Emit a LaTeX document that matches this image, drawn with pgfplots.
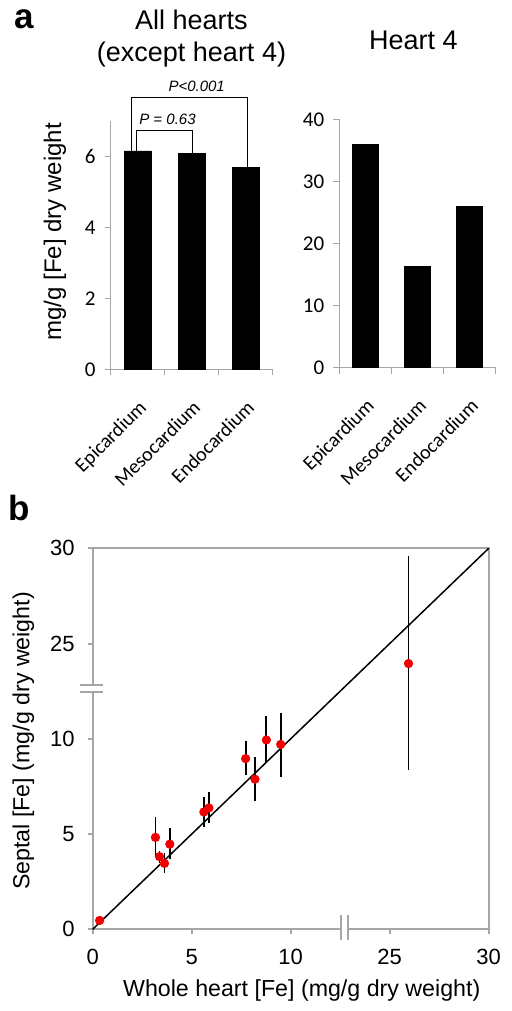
\documentclass[border=0pt]{standalone}
\usepackage{fontspec}
\setmainfont{Liberation Sans}
\newfontfamily\carlito{Carlito}
\usepackage{pgfplots}
\pgfplotsset{compat=1.18}
\definecolor{axgray}{RGB}{166,166,166}
\definecolor{dotred}{RGB}{240,0,0}

% Panel b: broken axes, plotted on an index scale u where
% 0->0, 5->1, 10->2, (break at 2.5), 25->3, 30->4 ;  u = v/5 below the break, u = 3+(v-25)/5 above
\pgfplotstableread{
x      y      ep     em
0.070  0.093  0.000  0.000
0.634  0.965  0.213  0.195
0.675  0.763  0.060  0.064
0.725  0.692  0.114  0.099
0.779  0.894  0.171  0.159
1.123  1.232  0.159  0.160
1.174  1.274  0.163  0.156
1.545  1.792  0.185  0.177
1.639  1.576  0.231  0.231
1.754  1.988  0.248  0.242
1.899  1.941  0.327  0.340
3.190  2.790  1.125  1.122
}\septal

\begin{document}
\begin{tikzpicture}
\path[use as bounding box] (0,0) rectangle (256pt,-505.5pt);

% panel letters
\node[anchor=base west, inner sep=0pt, font=\bfseries\fontsize{17.5}{20}\selectfont] at (7pt,-14.2pt) {a};
\node[anchor=base west, inner sep=0pt, font=\bfseries\fontsize{17.5}{20}\selectfont] at (4.15pt,-260.35pt) {b};

% titles
\node[anchor=base, inner sep=0pt, font=\fontsize{13.5}{16}\selectfont] at (95.75pt,-14.65pt) {All hearts};
\node[anchor=base, inner sep=0pt, font=\fontsize{13.5}{16}\selectfont] at (95.75pt,-30.8pt) {(except heart 4)};
\node[anchor=base, inner sep=0pt, font=\fontsize{13.5}{16}\selectfont] at (206.67pt,-24.67pt) {Heart 4};

% y label a
\node[rotate=90, inner sep=0pt, font=\fontsize{12}{14}\selectfont] at (27.5pt,-115.85pt) {mg/g [Fe] dry weight};

\pgfplotsset{
  barpanel/.style={
    scale only axis, anchor=south west, clip=false,
    xmin=-0.5, xmax=2.5, ymin=0,
    axis x line=bottom, axis y line=left,
    axis line style={axgray, line width=0.5pt, -},
    xtick={-0.5,0.5,1.5,2.5}, xticklabels={},
    tick align=outside, major tick length=3pt,
    tick style={axgray, line width=0.5pt},
    yticklabel style={font=\carlito\fontsize{10.5}{12}\selectfont, text=black, xshift=-1pt},
    extra x ticks={0,1,2},
    extra x tick labels={Epicardium,Mesocardium,Endocardium},
    extra x tick style={major tick length=0pt, tick style={draw=none},
      xticklabel style={font=\carlito\fontsize{10}{12}\selectfont, text=black,
        yshift=-14.6pt, rotate=45, anchor=north east, inner sep=0pt}},
    ybar, bar width=0.5, bar shift=0pt,
  }
}

% ---- All hearts (except heart 4)
\begin{axis}[barpanel,
  at={(55.25pt,-184.65pt)}, width=81.1pt, height=124.25pt,
  ymax=7, ytick={0,2,4,6}, yticklabels={0,2,4,6}]
\addplot[fill=black, draw=black] coordinates {(0,6.15) (1,6.07) (2,5.68)};
\draw[black, line width=0.5pt] (axis cs:-0.015,6.15) |- (axis cs:1.02,6.72) -- (axis cs:1.02,6.07);
\draw[black, line width=0.5pt] (axis cs:-0.12,6.15) |- (axis cs:2.04,7.66) -- (axis cs:2.04,5.68);
\node[anchor=base, inner sep=0pt, font=\itshape\fontsize{7.5}{9}\selectfont] at (axis cs:0.554,6.91) {P = 0.63};
\node[anchor=base, inner sep=0pt, font=\itshape\fontsize{7.5}{9}\selectfont] at (axis cs:1.094,7.82) {P<0.001};
\end{axis}

% ---- Heart 4
\begin{axis}[barpanel,
  at={(169.65pt,-183.85pt)}, width=78.2pt, height=124.2pt,
  ymax=40, ytick={0,10,20,30,40}, yticklabels={0,10,20,30,40}]
\addplot[fill=black, draw=black] coordinates {(0,36.0) (1,16.3) (2,26.0)};
\end{axis}

% ---- panel b
\begin{axis}[
  at={(46.35pt,-464.65pt)}, anchor=south west, scale only axis,
  width=198pt, height=190.5pt, clip=false,
  xmin=0, xmax=4, ymin=0, ymax=4,
  axis line style={axgray, line width=1pt},
  xtick={0,1,2,3,4}, xticklabels={0,5,10,25,30},
  ytick={0,1,2,3,4}, yticklabels={0,5,10,25,30},
  tick pos=left, tick align=outside, major tick length=2.5pt,
  tick style={axgray, line width=1pt},
  ticklabel style={font=\fontsize{11}{13}\selectfont, text=black},
  xticklabel style={yshift=-4pt},
  yticklabel style={xshift=-3pt},
]
\addplot[only marks, mark=*, mark size=2.1pt, color=dotred,
  mark options={fill=dotred, draw=dotred},
  error bars/.cd, y dir=both, y explicit, error mark=none,
  error bar style={black, line width=0.85pt}]
  table[x=x, y=y, y error plus=ep, y error minus=em] {\septal};
\addplot[black, line width=0.75pt] coordinates {(0,0) (4,4)};
\coordinate (xb1) at (axis cs:2.51,0);
\coordinate (xb2) at (axis cs:2.58,0);
\coordinate (yb1) at (axis cs:0,2.488);
\coordinate (yb2) at (axis cs:0,2.565);
\end{axis}
% axis breaks
\fill[white] ([xshift=0.5pt,yshift=-1pt]xb1) rectangle ([xshift=-0.5pt,yshift=1pt]xb2);
\draw[axgray, line width=1pt] ([yshift=7pt]xb1) -- ([yshift=-5.5pt]xb1);
\draw[axgray, line width=1pt] ([yshift=7pt]xb2) -- ([yshift=-5.5pt]xb2);
\fill[white] ([xshift=-1pt,yshift=0.5pt]yb1) rectangle ([xshift=1pt,yshift=-0.5pt]yb2);
\draw[axgray, line width=1pt] ([xshift=-6.35pt]yb1) -- ([xshift=5pt]yb1);
\draw[axgray, line width=1pt] ([xshift=-6.35pt]yb2) -- ([xshift=5pt]yb2);

% axis labels b
\node[inner sep=0pt, font=\fontsize{11.6}{14}\selectfont] at (150.85pt,-495pt) {Whole heart [Fe] (mg/g dry weight)};
\node[rotate=90, inner sep=0pt, font=\fontsize{11.6}{14}\selectfont] at (11.65pt,-370.5pt) {Septal [Fe] (mg/g dry weight)};
\end{tikzpicture}
\end{document}
